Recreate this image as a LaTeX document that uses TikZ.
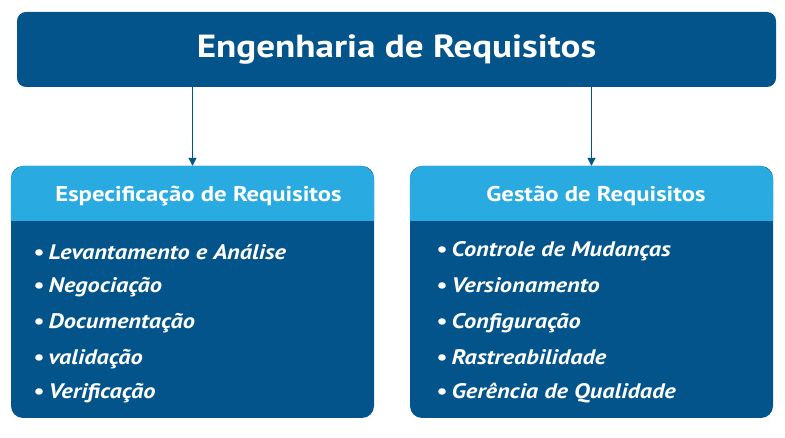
\documentclass[tikz,border=0pt]{standalone}
\usepackage{fontspec}
\setmainfont[FakeStretch=1.16]{PT Sans}
\usetikzlibrary{arrows.meta}
\definecolor{darkblue}{HTML}{03548A}
\definecolor{lightblue}{HTML}{29ABE2}
\newcommand{\bul}{\textup{•}\kern4pt}
\begin{document}
\begin{tikzpicture}[x=1pt,y=-1pt,
  titlebox/.style={fill=darkblue, rounded corners=9pt, minimum width=759pt, minimum height=75pt, inner sep=0pt},
  card/.style={fill=darkblue, rounded corners=12pt, minimum width=363pt, minimum height=252pt, inner sep=0pt},
  headtext/.style={text=white, font=\bfseries\fontsize{21.3}{24}\selectfont},
  item/.style={text=white, anchor=base west, inner sep=0pt, font=\bfseries\itshape\fontsize{21}{24}\selectfont},
  conn/.style={draw=darkblue, line width=1.3pt, -{Triangle[width=8pt,length=8pt]}}
]
\useasboundingbox (0,0) rectangle (785,438);
\node[titlebox, text=white, font=\bfseries\fontsize{32}{36}\selectfont] (top) at (396.5,49.5) {Engenharia de Requisitos};
\node[card] (spec) at (192.5,292) {};
\node[card] (gest) at (591.5,292) {};
\fill[lightblue] (spec.west |- 0,221) [rounded corners=14pt] -- (spec.north west) -- (spec.north east) [sharp corners] -- (spec.east |- 0,221) -- cycle;
\fill[lightblue] (gest.west |- 0,221) [rounded corners=14pt] -- (gest.north west) -- (gest.north east) [sharp corners] -- (gest.east |- 0,221) -- cycle;
\node[headtext] (spechead) at (198.5,196) {Especificação de Requisitos};
\node[headtext] (gesthead) at (596,196) {Gestão de Requisitos};
\draw[conn] (top.south -| spec.north) -- (spec.north);
\draw[conn] (top.south -| gest.north) -- (gest.north);
\node[item] (s1) at (33.5,259.5) {\bul Levantamento e Análise};
\node[item] (s2) at (33.5,293) {\bul Negociação};
\node[item] (s3) at (33.5,328.5) {\bul Documentação};
\node[item] (s4) at (33.5,364.5) {\bul validação};
\node[item] (s5) at (33.5,398.5) {\bul Verificação};
\node[item] (g1) at (436.5,257) {\bul Controle de Mudanças};
\node[item] (g2) at (436.5,293) {\bul Versionamento};
\node[item] (g3) at (436.5,328.5) {\bul Configuração};
\node[item] (g4) at (436.5,364.5) {\bul Rastreabilidade};
\node[item] (g5) at (436.5,398.5) {\bul Gerência de Qualidade};
\end{tikzpicture}
\end{document}
